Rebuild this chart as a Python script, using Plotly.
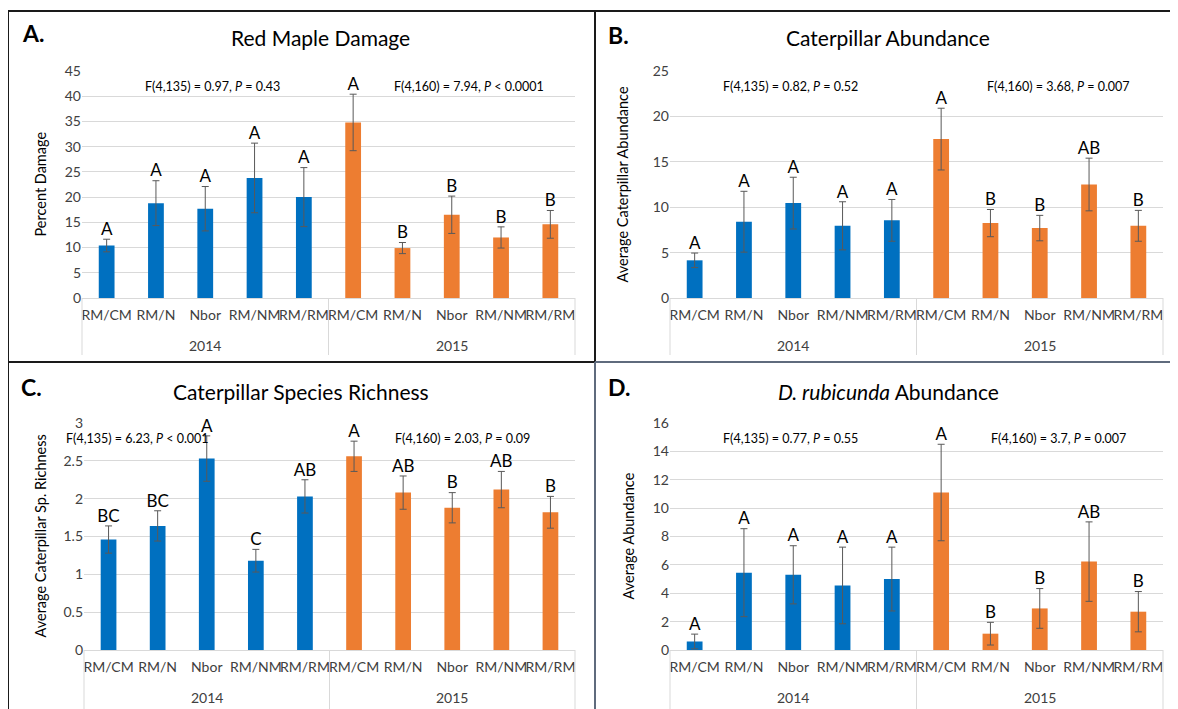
import plotly.graph_objects as go

# The page body has an 8px margin, so page pixel P maps to figure pixel P - 8.
OFF = 8
W, H = 1178 - OFF, 709 - OFF

treatments = ["RM/CM", "RM/N", "Nbor", "RM/NM", "RM/RM"]
years = ["2014", "2015"]

# Panel A: Red Maple Damage (percent)
damage_mean_2014 = [10.4, 18.8, 17.7, 23.8, 20.0]
damage_se_2014 = [1.25, 4.45, 4.4, 6.9, 5.85]
damage_mean_2015 = [34.8, 9.9, 16.5, 12.0, 14.6]
damage_se_2015 = [5.6, 1.1, 3.7, 2.1, 2.75]
damage_letters_2014 = ["A", "A", "A", "A", "A"]
damage_letters_2015 = ["A", "B", "B", "B", "B"]

# Panel B: Caterpillar Abundance
abund_mean_2014 = [4.15, 8.4, 10.45, 7.95, 8.55]
abund_se_2014 = [0.8, 3.35, 2.85, 2.65, 2.3]
abund_mean_2015 = [17.5, 8.25, 7.7, 12.5, 7.95]
abund_se_2015 = [3.4, 1.5, 1.4, 2.9, 1.7]
abund_letters_2014 = ["A", "A", "A", "A", "A"]
abund_letters_2015 = ["A", "B", "B", "AB", "B"]

# Panel C: Caterpillar Species Richness
rich_mean_2014 = [1.46, 1.64, 2.53, 1.18, 2.03]
rich_se_2014 = [0.18, 0.2, 0.3, 0.15, 0.22]
rich_mean_2015 = [2.56, 2.08, 1.88, 2.12, 1.82]
rich_se_2015 = [0.2, 0.22, 0.2, 0.24, 0.21]
rich_letters_2014 = ["BC", "BC", "A", "C", "AB"]
rich_letters_2015 = ["A", "AB", "B", "AB", "B"]

# Panel D: D. rubicunda Abundance
drub_mean_2014 = [0.6, 5.45, 5.3, 4.55, 5.0]
drub_se_2014 = [0.52, 3.1, 2.05, 2.7, 2.25]
drub_mean_2015 = [11.1, 1.15, 2.93, 6.23, 2.7]
drub_se_2015 = [3.4, 0.8, 1.4, 2.8, 1.42]
drub_letters_2014 = ["A", "A", "A", "A", "A"]
drub_letters_2015 = ["A", "B", "B", "AB", "B"]

BLUE = "#0070C0"
ORANGE = "#ED7D31"
FONT = "Lato"
GRID = "#d9d9d9"
TICKC = "#404040"

panels = [
    dict(letter="A.", title="Red Maple Damage", ytitle="Percent Damage",
         m14=damage_mean_2014, s14=damage_se_2014, m15=damage_mean_2015, s15=damage_se_2015,
         l14=damage_letters_2014, l15=damage_letters_2015, ymax=45, dtick=5,
         stat14="F(4,135) = 0.97, <i>P</i> = 0.43", stat15="F(4,160) = 7.94, <i>P</i> < 0.0001",
         px=(82, 575), py=(71, 298), letpos=(33, 33), titpos=(320, 37), ytpos=40,
         s14pos=(212, 86), s15pos=(469, 86), yearpos=345, divbot=355),
    dict(letter="B.", title="Caterpillar Abundance", ytitle="Average Caterpillar Abundance",
         m14=abund_mean_2014, s14=abund_se_2014, m15=abund_mean_2015, s15=abund_se_2015,
         l14=abund_letters_2014, l15=abund_letters_2015, ymax=25, dtick=5,
         stat14="F(4,135) = 0.82, <i>P</i> = 0.52", stat15="F(4,160) = 3.68, <i>P</i> = 0.007",
         px=(670, 1163), py=(71, 298), letpos=(618, 35), titpos=(888, 38), ytpos=622,
         s14pos=(790, 86), s15pos=(1058, 86), yearpos=345, divbot=355),
    dict(letter="C.", title="Caterpillar Species Richness", ytitle="Average Caterpillar Sp. Richness",
         m14=rich_mean_2014, s14=rich_se_2014, m15=rich_mean_2015, s15=rich_se_2015,
         l14=rich_letters_2014, l15=rich_letters_2015, ymax=3, dtick=0.5,
         stat14="F(4,135) = 6.23, <i>P</i> < 0.001", stat15="F(4,160) = 2.03, <i>P</i> = 0.09",
         px=(84, 575), py=(423, 650), letpos=(31, 387), titpos=(301, 391), ytpos=40,
         s14pos=(137, 438), s15pos=(462, 438), yearpos=697, divbot=709),
    dict(letter="D.", title="<i>D. rubicunda</i> Abundance", ytitle="Average Abundance",
         m14=drub_mean_2014, s14=drub_se_2014, m15=drub_mean_2015, s15=drub_se_2015,
         l14=drub_letters_2014, l15=drub_letters_2015, ymax=16, dtick=2,
         stat14="F(4,135) = 0.77, <i>P</i> = 0.55", stat15="F(4,160) = 3.7, <i>P</i> = 0.007",
         px=(670, 1163), py=(423, 650), letpos=(619, 387), titpos=(888, 391), ytpos=628,
         s14pos=(790, 438), s15pos=(1058, 438), yearpos=697, divbot=709),
]


def fx(p):
    return (p - OFF) / W


def fy(p):
    return 1 - (p - OFF) / H


fig = go.Figure()
annotations = []
shapes = []
layout = {}

xkeys = [f"{y} {t}" for y in years for t in treatments]
xlabels = treatments * 2
colors = [BLUE] * 5 + [ORANGE] * 5

for i, p in enumerate(panels):
    n = "" if i == 0 else str(i + 1)
    xa, ya = "x" + n, "y" + n
    means = p["m14"] + p["m15"]
    ses = p["s14"] + p["s15"]
    letters = p["l14"] + p["l15"]
    fig.add_trace(go.Bar(
        x=xkeys, y=means, xaxis=xa, yaxis=ya,
        marker=dict(color=colors, line=dict(width=0)),
        error_y=dict(type="data", array=ses, color="#595959", thickness=1, width=3.5),
        showlegend=False, hoverinfo="skip",
    ))
    fig.add_trace(go.Scatter(
        x=xkeys, y=[m + s for m, s in zip(means, ses)], xaxis=xa, yaxis=ya,
        mode="text", text=letters, textposition="top center",
        textfont=dict(family=FONT, size=17, color="#000000"),
        showlegend=False, hoverinfo="skip", cliponaxis=False,
    ))
    layout["xaxis" + n] = dict(
        type="category", domain=[fx(p["px"][0]), fx(p["px"][1])], anchor=ya,
        tickmode="array", tickvals=xkeys, ticktext=xlabels,
        showline=True, linecolor=GRID, linewidth=1, showgrid=False, ticks="",
        tickangle=0, automargin=False, ticklabelstandoff=4,
        tickfont=dict(family=FONT, size=14, color=TICKC), fixedrange=True,
    )
    layout["yaxis" + n] = dict(
        domain=[fy(p["py"][1]), fy(p["py"][0])], anchor=xa,
        range=[0, p["ymax"]], dtick=p["dtick"], showgrid=True, gridcolor=GRID, gridwidth=1,
        zeroline=False, showline=False, ticks="", ticklen=0, automargin=False,
        tickfont=dict(family=FONT, size=14, color=TICKC), fixedrange=True,
    )
    # year group labels and group dividers under the category axis
    for k, yr in enumerate(years):
        annotations.append(dict(xref=xa + " domain", yref="paper", x=0.25 + 0.5 * k,
                                y=fy(p["yearpos"]), text=yr, showarrow=False,
                                font=dict(family=FONT, size=14, color=TICKC),
                                xanchor="center", yanchor="middle"))
    for dx in (0, 0.5, 1):
        shapes.append(dict(type="line", xref=xa + " domain", yref="paper",
                           x0=dx, x1=dx, y0=fy(p["py"][1]), y1=fy(p["divbot"]),
                           line=dict(color=GRID, width=1)))
    annotations.append(dict(xref="paper", yref="paper", x=fx(p["letpos"][0]), y=fy(p["letpos"][1]),
                            text="<b>" + p["letter"] + "</b>", showarrow=False,
                            font=dict(family=FONT, size=23, color="#000000"),
                            xanchor="center", yanchor="middle"))
    annotations.append(dict(xref="paper", yref="paper", x=fx(p["titpos"][0]), y=fy(p["titpos"][1]),
                            text=p["title"], showarrow=False,
                            font=dict(family=FONT, size=21, color="#000000"),
                            xanchor="center", yanchor="middle"))
    annotations.append(dict(xref="paper", yref="paper", x=fx(p["ytpos"]),
                            y=fy((p["py"][0] + p["py"][1]) / 2),
                            text=p["ytitle"], showarrow=False, textangle=-90,
                            font=dict(family=FONT, size=14.5, color="#000000"),
                            xanchor="center", yanchor="middle"))
    for key, tpos in (("stat14", "s14pos"), ("stat15", "s15pos")):
        annotations.append(dict(xref="paper", yref="paper", x=fx(p[tpos][0]), y=fy(p[tpos][1]),
                                text=p[key], showarrow=False,
                                font=dict(family=FONT, size=12.5, color="#000000"),
                                xanchor="center", yanchor="middle"))

# panel frame lines
DARK = "#1a1a1a"
SLATE = "#5f6b7d"


def line(x0, y0, x1, y1, color, w=2):
    shapes.append(dict(type="line", xref="paper", yref="paper",
                       x0=fx(x0), y0=fy(y0), x1=fx(x1), y1=fy(y1),
                       line=dict(color=color, width=w)))


line(8, 11, 1178, 11, DARK)
line(8, 11, 8, 709, DARK)
line(595, 11, 595, 362, DARK)
line(8, 362, 595, 362, DARK)
line(595, 362, 595, 709, SLATE)
line(595, 362, 1178, 362, SLATE)

fig.update_layout(
    width=W, height=H, margin=dict(l=0, r=0, t=0, b=0, autoexpand=False),
    paper_bgcolor="white", plot_bgcolor="white",
    bargap=0.68, annotations=annotations, shapes=shapes,
    font=dict(family=FONT), showlegend=False,
    **layout,
)

fig.write_html("out.html")
